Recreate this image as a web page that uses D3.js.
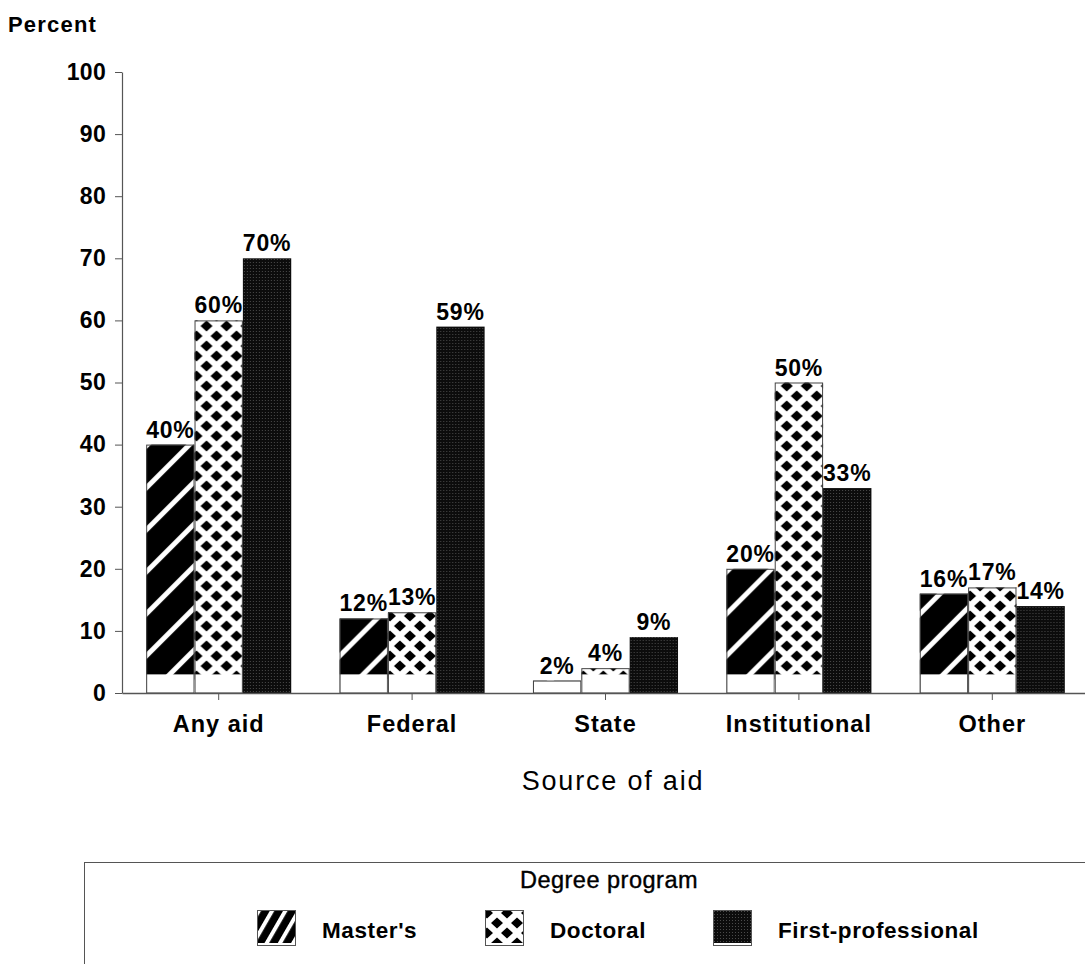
<!DOCTYPE html>
<html>
<head>
<meta charset="utf-8">
<script src="https://cdn.jsdelivr.net/npm/d3@7"></script>
<style>
  html, body { margin: 0; padding: 0; background: #fff; }
  svg { display: block; font-family: "Liberation Sans", Arial, sans-serif; }
</style>
</head>
<body>
<svg id="chart" width="1085" height="964"></svg>
<script>
// ---- data ----
const categories = ["Any aid", "Federal", "State", "Institutional", "Other"];
const seriesNames = ["Master's", "Doctoral", "First-professional"];
const mastersValues = [40, 12, 2, 20, 16];
const doctoralValues = [60, 13, 4, 50, 17];
const firstProfValues = [70, 59, 9, 33, 14];
const yTicks = [0, 10, 20, 30, 40, 50, 60, 70, 80, 90, 100];
const yAxisTitle = "Percent";
const xAxisTitle = "Source of aid";
const legendTitle = "Degree program";

const seriesValues = [mastersValues, doctoralValues, firstProfValues];
const patternIds = ["pat-stripes", "pat-diamonds", "pat-dark"];
const whiteBase = [true, true, false];

// ---- layout ----
const plotLeft = 122, plotRight = 1089, plotTop = 72, plotBottom = 693;

const svg = d3.select("#chart");
const defs = svg.append("defs");

// Master's: black with white diagonal stripes
const P = 42;
const ps = defs.append("pattern").attr("id", "pat-stripes")
  .attr("patternUnits", "userSpaceOnUse").attr("width", P).attr("height", P)
  .attr("x", 5).attr("y", 0);
ps.append("rect").attr("width", P).attr("height", P).attr("fill", "#000");
ps.append("path")
  .attr("d", `M-2,${P+2}L${P+2},-2 M-4,4L4,-4 M${P-4},${P+4}L${P+4},${P-4}`)
  .attr("stroke", "#fff").attr("stroke-width", 5);

// Doctoral: white with black diamonds
const D = 20;
const pd = defs.append("pattern").attr("id", "pat-diamonds")
  .attr("patternUnits", "userSpaceOnUse").attr("width", D).attr("height", D)
  .attr("x", 2).attr("y", 3);
pd.append("rect").attr("width", D).attr("height", D).attr("fill", "#fff");
const diamond = (cx, cy) => `M${cx-6},${cy}L${cx},${cy-5.5}L${cx+6},${cy}L${cx},${cy+5.5}Z`;
pd.append("path")
  .attr("d", [diamond(0,0), diamond(D,0), diamond(0,D), diamond(D,D), diamond(D/2,D/2)].join(""))
  .attr("fill", "#000");

// First-professional: very dark fine texture
const pk = defs.append("pattern").attr("id", "pat-dark")
  .attr("patternUnits", "userSpaceOnUse").attr("width", 3).attr("height", 3);
pk.append("rect").attr("width", 3).attr("height", 3).attr("fill", "#0c0c0c");
pk.append("rect").attr("x", 1).attr("y", 1).attr("width", 1).attr("height", 1).attr("fill", "#4a4a4a");

// Legend stripes (denser, steeper)
const pl = defs.append("pattern").attr("id", "pat-stripes-legend")
  .attr("patternUnits", "userSpaceOnUse").attr("width", 11.5).attr("height", 20)
  .attr("patternTransform", "rotate(30)");
pl.append("rect").attr("width", 11.5).attr("height", 20).attr("fill", "#000");
pl.append("rect").attr("x", 0).attr("width", 4).attr("height", 20).attr("fill", "#fff");

// ---- scales ----
const x0 = d3.scaleBand().domain(categories).range([plotLeft, plotRight]).paddingInner(0).paddingOuter(0);
const x1 = d3.scaleBand().domain(seriesNames).range([0, x0.bandwidth()]).paddingInner(0).paddingOuter(0.5);
const y = d3.scaleLinear().domain([0, 100]).range([plotBottom, plotTop]);

// ---- y axis ----
const yAxis = svg.append("g").attr("transform", `translate(${plotLeft},0)`)
  .call(d3.axisLeft(y).tickValues(yTicks).tickSize(7).tickPadding(9).tickSizeOuter(0));
yAxis.select(".domain").attr("stroke", "#555").attr("stroke-width", 1.2);
yAxis.selectAll(".tick line").attr("stroke", "#555");
yAxis.selectAll(".tick text").attr("fill", "#000")
  .style("font-size", "23px").style("font-weight", "bold").style("letter-spacing", "0.3px")
  .style("font-family", "'Liberation Sans', Arial, sans-serif");

svg.append("text").attr("x", 8).attr("y", 32).text(yAxisTitle)
  .style("font-size", "22px").style("font-weight", "bold").style("letter-spacing", "1.2px");

// ---- bars ----
categories.forEach((cat, ci) => {
  seriesNames.forEach((s, si) => {
    const v = seriesValues[si][ci];
    const bx = x0(cat) + x1(s);
    const bw = x1.bandwidth();
    const g = svg.append("g").attr("transform", `translate(${bx},${y(0)})`);
    const h = y(0) - y(v);
    g.append("rect")
      .attr("x", 0).attr("y", -h).attr("width", bw).attr("height", h)
      .attr("fill", `url(#${patternIds[si]})`);
    if (whiteBase[si]) {
      const hb = Math.min(h, y(0) - y(3));
      g.append("rect").attr("x", 0).attr("y", -hb).attr("width", bw).attr("height", hb)
        .attr("fill", "#fff");
      g.append("rect").attr("x", 0.5).attr("y", -h + 0.5).attr("width", bw - 1).attr("height", h - 0.5)
        .attr("fill", "none").attr("stroke", "#444").attr("stroke-width", 1);
    }
    svg.append("text")
      .attr("x", bx + bw / 2).attr("y", y(v) - 7)
      .attr("text-anchor", "middle")
      .style("font-size", "23px").style("font-weight", "bold").style("letter-spacing", "0.8px")
      .text(v + "%");
  });
});

// ---- x axis ----
const xAxis = svg.append("g").attr("transform", `translate(0,${plotBottom})`)
  .call(d3.axisBottom(x0).tickSize(7).tickPadding(15).tickSizeOuter(0));
xAxis.select(".domain").attr("stroke", "#555").attr("stroke-width", 1.5);
xAxis.selectAll(".tick line").attr("stroke", "#555");
xAxis.selectAll(".tick text").attr("fill", "#000")
  .style("font-size", "23.5px").style("font-weight", "bold").style("letter-spacing", "1px")
  .style("font-family", "'Liberation Sans', Arial, sans-serif");

svg.append("text").attr("x", 613).attr("y", 790).attr("text-anchor", "middle")
  .style("font-size", "27px").style("letter-spacing", "1.8px").text(xAxisTitle);

// ---- legend ----
svg.append("rect").attr("x", 84.5).attr("y", 862.5).attr("width", 1100).attr("height", 200)
  .attr("fill", "none").attr("stroke", "#555").attr("stroke-width", 1);
svg.append("text").attr("x", 609).attr("y", 888).attr("text-anchor", "middle")
  .style("font-size", "23.5px").style("letter-spacing", "0.5px").style("font-weight", "500")
  .style("stroke", "#000").style("stroke-width", "0.4px").text(legendTitle);

const legendPatterns = ["pat-stripes-legend", "pat-diamonds", "pat-dark"];
seriesNames.forEach((s, i) => {
  const lx = 257 + i * 228, ly = 910;
  const g = svg.append("g").attr("transform", `translate(${lx},${ly})`);
  g.append("rect").attr("width", 39).attr("height", 36).attr("fill", `url(#${legendPatterns[i]})`);
  g.append("rect").attr("y", 33).attr("width", 39).attr("height", 3).attr("fill", "#fff");
  g.append("rect").attr("x", 0.5).attr("y", 0.5).attr("width", 38).attr("height", 35)
    .attr("fill", "none").attr("stroke", "#555").attr("stroke-width", 1);
  svg.append("text").attr("x", lx + 65).attr("y", 938)
    .style("font-size", "22.5px").style("font-weight", "bold").style("letter-spacing", "0.6px")
    .text(s);
});
</script>
</body>
</html>
